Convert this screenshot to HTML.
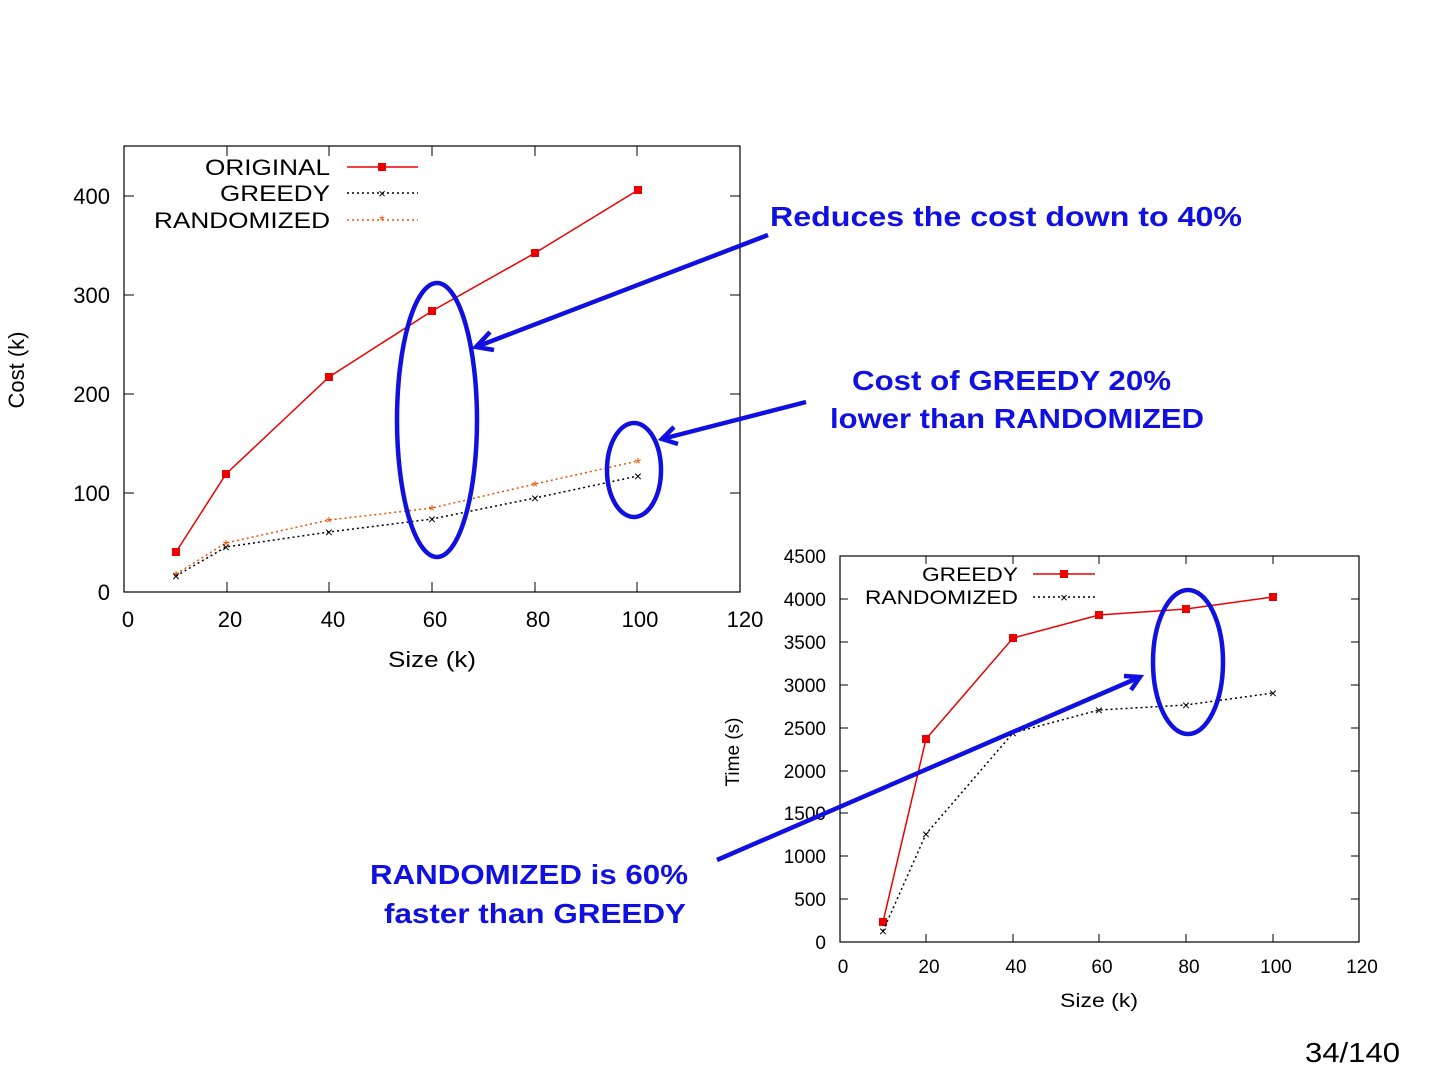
<!DOCTYPE html>
<html><head><meta charset="utf-8"><style>
html,body{margin:0;padding:0;background:#fff;}
svg{display:block;}
text{font-family:"Liberation Sans",sans-serif;}
</style></head><body>
<svg width="1440" height="1080" viewBox="0 0 1440 1080" xmlns="http://www.w3.org/2000/svg">
<!-- Chart 1 -->
<rect x="124" y="146" width="616" height="446" fill="none" stroke="#000" stroke-width="1.2"/>
<g stroke="#000" stroke-width="1">
<line x1="124" y1="493" x2="134" y2="493"/><line x1="740" y1="493" x2="730" y2="493"/>
<line x1="124" y1="394" x2="134" y2="394"/><line x1="740" y1="394" x2="730" y2="394"/>
<line x1="124" y1="295" x2="134" y2="295"/><line x1="740" y1="295" x2="730" y2="295"/>
<line x1="124" y1="196" x2="134" y2="196"/><line x1="740" y1="196" x2="730" y2="196"/>
<line x1="227" y1="592" x2="227" y2="582"/><line x1="227" y1="146" x2="227" y2="156"/>
<line x1="329" y1="592" x2="329" y2="582"/><line x1="329" y1="146" x2="329" y2="156"/>
<line x1="432" y1="592" x2="432" y2="582"/><line x1="432" y1="146" x2="432" y2="156"/>
<line x1="535" y1="592" x2="535" y2="582"/><line x1="535" y1="146" x2="535" y2="156"/>
<line x1="637" y1="592" x2="637" y2="582"/><line x1="637" y1="146" x2="637" y2="156"/>
</g>
<g font-size="22" text-anchor="end" fill="#000">
<text x="110" y="600">0</text><text x="110" y="501">100</text><text x="110" y="402">200</text><text x="110" y="303">300</text><text x="110" y="204">400</text>
</g>
<g font-size="22" text-anchor="middle">
<text x="128" y="627">0</text><text x="230" y="627">20</text><text x="333" y="627">40</text><text x="435" y="627">60</text><text x="538" y="627">80</text><text x="640" y="627">100</text><text x="745" y="627">120</text>
</g>
<text x="388" y="667" font-size="22" textLength="88" lengthAdjust="spacingAndGlyphs">Size (k)</text>
<text transform="translate(24,370) rotate(-90)" font-size="22" text-anchor="middle">Cost (k)</text>
<g font-size="22">
<text x="205" y="175" textLength="125" lengthAdjust="spacingAndGlyphs">ORIGINAL</text>
<text x="220" y="201" textLength="110" lengthAdjust="spacingAndGlyphs">GREEDY</text>
<text x="154" y="228" textLength="176" lengthAdjust="spacingAndGlyphs">RANDOMIZED</text>
</g>
<line x1="347" y1="167" x2="418" y2="167" stroke="#e00" stroke-width="1.5"/><rect x="378" y="163" width="8" height="8" fill="#e00"/>
<line x1="347" y1="193" x2="418" y2="193" stroke="#000" stroke-width="1.5" stroke-dasharray="2,3"/><text x="382" y="198" font-size="13" text-anchor="middle">×</text>
<line x1="347" y1="220" x2="418" y2="220" stroke="#f05000" stroke-width="1.5" stroke-dasharray="2,3"/><text x="382" y="225" font-size="14" text-anchor="middle" fill="#f05000">*</text>
<polyline points="176,552 226,474 329,377 432,311 535,253 638,190" fill="none" stroke="#e00" stroke-width="1.5"/>
<g fill="#e00"><rect x="172" y="548" width="8" height="8"/><rect x="222" y="470" width="8" height="8"/><rect x="325" y="373" width="8" height="8"/><rect x="428" y="307" width="8" height="8"/><rect x="531" y="249" width="8" height="8"/><rect x="634" y="186" width="8" height="8"/></g>
<polyline points="176,574 226,543 329,520 432,508 535,484 638,461" fill="none" stroke="#f05000" stroke-width="1.5" stroke-dasharray="2,3"/>
<g fill="#f05000" font-size="16" text-anchor="middle"><text x="176" y="582">*</text><text x="226" y="551">*</text><text x="329" y="528">*</text><text x="432" y="516">*</text><text x="535" y="492">*</text><text x="638" y="469">*</text></g>
<polyline points="176,576 226,547 329,532 432,519 535,498 638,476" fill="none" stroke="#000" stroke-width="1.5" stroke-dasharray="2,3"/>
<g font-size="14" text-anchor="middle"><text x="176" y="581">×</text><text x="226" y="552">×</text><text x="329" y="537">×</text><text x="432" y="524">×</text><text x="535" y="503">×</text><text x="638" y="481">×</text></g>

<!-- Chart 2 -->
<rect x="840" y="556" width="519" height="386" fill="none" stroke="#000" stroke-width="1.2"/>
<g stroke="#000" stroke-width="1">
<line x1="840" y1="899" x2="848" y2="899"/><line x1="840" y1="856" x2="848" y2="856"/><line x1="840" y1="813" x2="848" y2="813"/><line x1="840" y1="771" x2="848" y2="771"/><line x1="840" y1="728" x2="848" y2="728"/><line x1="840" y1="685" x2="848" y2="685"/><line x1="840" y1="642" x2="848" y2="642"/><line x1="840" y1="599" x2="848" y2="599"/>
<line x1="1359" y1="899" x2="1351" y2="899"/><line x1="1359" y1="856" x2="1351" y2="856"/><line x1="1359" y1="813" x2="1351" y2="813"/><line x1="1359" y1="771" x2="1351" y2="771"/><line x1="1359" y1="728" x2="1351" y2="728"/><line x1="1359" y1="685" x2="1351" y2="685"/><line x1="1359" y1="642" x2="1351" y2="642"/><line x1="1359" y1="599" x2="1351" y2="599"/>
<line x1="926" y1="942" x2="926" y2="934"/><line x1="1013" y1="942" x2="1013" y2="934"/><line x1="1099" y1="942" x2="1099" y2="934"/><line x1="1186" y1="942" x2="1186" y2="934"/><line x1="1273" y1="942" x2="1273" y2="934"/>
<line x1="926" y1="556" x2="926" y2="564"/><line x1="1013" y1="556" x2="1013" y2="564"/><line x1="1099" y1="556" x2="1099" y2="564"/><line x1="1186" y1="556" x2="1186" y2="564"/><line x1="1273" y1="556" x2="1273" y2="564"/>
</g>
<g font-size="19" text-anchor="end">
<text x="826" y="949">0</text><text x="826" y="906">500</text><text x="826" y="863">1000</text><text x="826" y="820">1500</text><text x="826" y="778">2000</text><text x="826" y="735">2500</text><text x="826" y="692">3000</text><text x="826" y="649">3500</text><text x="826" y="606">4000</text><text x="826" y="563">4500</text>
</g>
<g font-size="19" text-anchor="middle">
<text x="843" y="973">0</text><text x="929" y="973">20</text><text x="1016" y="973">40</text><text x="1102" y="973">60</text><text x="1189" y="973">80</text><text x="1276" y="973">100</text><text x="1362" y="973">120</text>
<text transform="translate(739,752) rotate(-90)">Time (s)</text>
</g>
<text x="1060" y="1007" font-size="19" textLength="78" lengthAdjust="spacingAndGlyphs">Size (k)</text>
<g font-size="19">
<text x="922" y="581" textLength="96" lengthAdjust="spacingAndGlyphs">GREEDY</text>
<text x="865" y="604" textLength="153" lengthAdjust="spacingAndGlyphs">RANDOMIZED</text>
</g>
<line x1="1033" y1="574" x2="1095" y2="574" stroke="#e00" stroke-width="1.5"/><rect x="1060" y="570" width="8" height="8" fill="#e00"/>
<line x1="1033" y1="597" x2="1095" y2="597" stroke="#000" stroke-width="1.5" stroke-dasharray="2,3"/><text x="1064" y="602" font-size="13" text-anchor="middle">×</text>
<polyline points="883,922 926,739 1013,638 1099,615 1186,609 1273,597" fill="none" stroke="#e00" stroke-width="1.5"/>
<g fill="#e00"><rect x="879" y="918" width="8" height="8"/><rect x="922" y="735" width="8" height="8"/><rect x="1009" y="634" width="8" height="8"/><rect x="1095" y="611" width="8" height="8"/><rect x="1182" y="605" width="8" height="8"/><rect x="1269" y="593" width="8" height="8"/></g>
<polyline points="883,931 926,834 1013,733 1099,710 1186,705 1273,693" fill="none" stroke="#000" stroke-width="1.5" stroke-dasharray="2,3"/>
<g font-size="14" text-anchor="middle"><text x="883" y="936">×</text><text x="926" y="839">×</text><text x="1013" y="738">×</text><text x="1099" y="715">×</text><text x="1186" y="710">×</text><text x="1273" y="698">×</text></g>

<!-- Annotations -->
<g fill="none" stroke="#1010e0" stroke-width="4.5">
<ellipse cx="437" cy="420" rx="40" ry="137"/>
<ellipse cx="634" cy="470" rx="27" ry="47"/>
<ellipse cx="1188" cy="662" rx="35" ry="72"/>
<line x1="768" y1="235" x2="476" y2="347"/><polyline points="490,332 476,347 494,350"/>
<line x1="806" y1="402" x2="662" y2="439"/><polyline points="674,427 662,439 678,444"/>
<line x1="717" y1="860" x2="1140" y2="677"/><polyline points="1124,676 1140,677 1131,690"/>
</g>
<g font-size="28" font-weight="bold" fill="#1010e0">
<text x="770" y="226" textLength="472" lengthAdjust="spacingAndGlyphs">Reduces the cost down to 40%</text>
<text x="852" y="390" textLength="319" lengthAdjust="spacingAndGlyphs">Cost of GREEDY 20%</text>
<text x="830" y="428" textLength="374" lengthAdjust="spacingAndGlyphs">lower than RANDOMIZED</text>
<text x="370" y="884" textLength="318" lengthAdjust="spacingAndGlyphs">RANDOMIZED is 60%</text>
<text x="384" y="923" textLength="302" lengthAdjust="spacingAndGlyphs">faster than GREEDY</text>
</g>
<text x="1305" y="1062" font-size="28" textLength="95" lengthAdjust="spacingAndGlyphs">34/140</text>
</svg>
</body></html>
